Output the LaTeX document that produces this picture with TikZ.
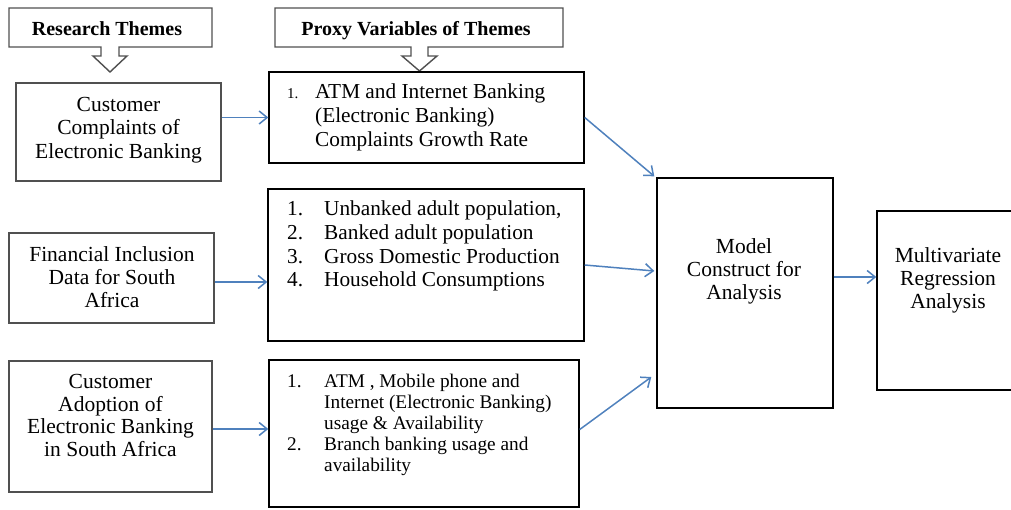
\documentclass[tikz,border=0pt]{standalone}
\usepackage{fontspec}
\setmainfont{Liberation Serif}
\usetikzlibrary{arrows.meta}
\definecolor{arrblue}{HTML}{4F81BD}
\definecolor{edgegray}{HTML}{505050}
\begin{document}
\begin{tikzpicture}[x=1pt,y=-1pt,
  box/.style={draw=black, line width=1.4pt, inner sep=0pt, rectangle},
  gbox/.style={box, draw=edgegray},
  txt/.style={inner sep=0pt, align=center, anchor=north, font=\fontsize{21.5}{23.4}\selectfont},
  lst/.style={inner sep=0pt, align=left, anchor=north west, font=\fontsize{21.3}{23.6}\selectfont},
  lsts/.style={inner sep=0pt, align=left, anchor=north west, font=\fontsize{19.3}{21}\selectfont},
  hdr/.style={inner sep=0pt, anchor=base, font=\fontsize{20}{24}\selectfont\bfseries},
  callout/.style={draw=edgegray, line width=1.4pt, fill=white},
  arr/.style={draw=arrblue, line width=1.5pt, -{Straight Barb[length=8pt,width=13pt]}}
]
\useasboundingbox (0,0) rectangle (1011,509);
\fill[white] (0,0) rectangle (1011,509);

% header callouts
\draw[callout] (9,8) -- (212,8) -- (212,47) -- (119,47) -- (119,56) -- (127,56) -- (110,72)
  -- (93,56) -- (101,56) -- (101,47) -- (9,47) -- cycle;
\node[hdr] (h1) at (107,35) {Research Themes};
\draw[callout] (275,8) -- (563,8) -- (563,47) -- (428,47) -- (428,56) -- (437,56) -- (419.5,71)
  -- (402,56) -- (411,56) -- (411,47) -- (275,47) -- cycle;
\node[hdr] (h2) at (416,35) {Proxy Variables of Themes};

% left column
\node[gbox, minimum width=205pt, minimum height=98pt] (a) at (118.5,132) {};
\node[txt] (at) at (118.5,97) {Customer\\Complaints of\\Electronic Banking};
\node[gbox, minimum width=205pt, minimum height=90pt] (c) at (111.5,278) {};
\node[txt] (ct) at (112,246) {Financial Inclusion\\Data for South\\Africa};
\node[gbox, minimum width=203pt, minimum height=131pt] (e) at (110.5,426.5) {};
\node[txt, font=\fontsize{21.5}{22.7}\selectfont] (et) at (110.5,374) {Customer\\Adoption of\\Electronic Banking\\in South Africa};

% proxy column
\node[box, minimum width=315pt, minimum height=91pt] (b) at (426.5,117.5) {};
\node[lst] (bt) at (287,84) {\makebox[28pt][l]{\fontsize{15}{15}\selectfont 1.}ATM and Internet Banking\\
  \hspace*{28pt}(Electronic Banking)\\
  \hspace*{28pt}Complaints Growth Rate};
\node[box, minimum width=316pt, minimum height=152pt] (d) at (426,265) {};
\node[lst] (dt) at (287,201) {\makebox[37pt][l]{1.}Unbanked adult population,\\
  \makebox[37pt][l]{2.}Banked adult population\\
  \makebox[37pt][l]{3.}Gross Domestic Production\\
  \makebox[37pt][l]{4.}Household Consumptions};
\node[box, minimum width=310pt, minimum height=147pt] (f) at (424,433.5) {};
\node[lsts] (ft) at (287,374) {\makebox[37pt][l]{1.}ATM , Mobile phone and\\
  \hspace*{37pt}Internet (Electronic Banking)\\
  \hspace*{37pt}usage \& Availability\\
  \makebox[37pt][l]{2.}Branch banking usage and\\
  \hspace*{37pt}availability};

% right
\node[box, minimum width=176pt, minimum height=230pt] (m) at (745,293) {};
\node[txt] (mt) at (744,238) {Model\\Construct for\\Analysis};
\node[box, minimum width=137pt, minimum height=179pt] (r) at (945.5,300.5) {};
\node[txt] (rt) at (948,247) {Multivariate\\Regression\\Analysis};

% connectors
\draw[arr] (a.east |- b.west) -- (b.west);
\coordinate (c1) at ([yshift=-4pt]c.east);
\draw[arr] (c1) -- (c1 -| d.west);
\coordinate (e1) at ([yshift=-2.5pt]e.east);
\draw[arr] (e1) -- (e1 -| f.west);
\draw[arr] (b.east) -- ([shift={(-2pt,1pt)}]m.north west);
\draw[arr] (d.east) -- ([shift={(-2pt,22pt)}]m.west);
\draw[arr] ([yshift=4pt]f.east) -- ([shift={(-5pt,-84pt)}]m.west);
\coordinate (m1) at ([yshift=16pt]m.east);
\draw[arr] (m1) -- (m1 -| r.west);
\end{tikzpicture}
\end{document}
